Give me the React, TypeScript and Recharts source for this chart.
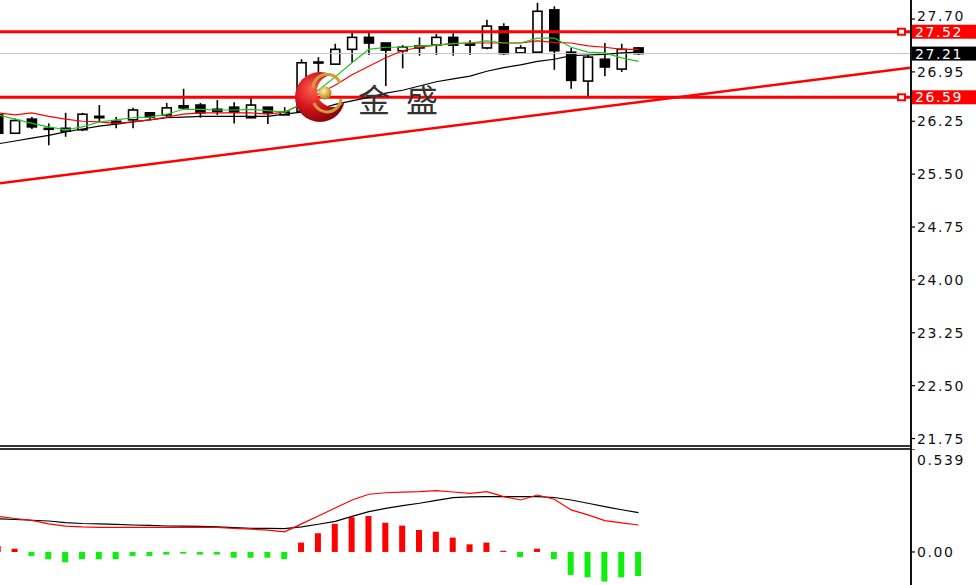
import {
  ComposedChart,
  Bar,
  Line,
  XAxis,
  YAxis,
  ReferenceLine,
  Cell,
} from 'recharts';

// candles, k = -1 .. 37 (first one is cut by the left edge)
const openPx = [26.34, 26.08, 26.28, 26.15, 26.11, 26.13, 26.32, 26.25, 26.27, 26.37, 26.34, 26.47, 26.48, 26.42, 26.45, 26.30, 26.45, 26.34, 26.39, 27.09, 27.06, 27.27, 27.44, 27.36, 27.25, 27.29, 27.33, 27.44, 27.33, 27.29, 27.59, 27.22, 27.23, 27.83, 27.23, 26.82, 27.13, 26.99, 27.29];
const highPx = [26.37, 26.29, 26.31, 26.22, 26.37, 26.37, 26.48, 26.31, 26.44, 26.38, 26.51, 26.71, 26.51, 26.55, 26.52, 26.58, 26.45, 26.45, 27.13, 27.16, 27.35, 27.52, 27.52, 27.36, 27.33, 27.44, 27.49, 27.50, 27.40, 27.69, 27.64, 27.33, 27.93, 27.88, 27.29, 27.19, 27.36, 27.35, 27.30];
const lowPx = [26.05, 26.08, 26.14, 25.91, 26.03, 26.11, 26.24, 26.15, 26.15, 26.27, 26.30, 26.41, 26.30, 26.34, 26.22, 26.30, 26.21, 26.34, 26.37, 26.93, 27.06, 27.08, 27.19, 26.75, 27.00, 27.18, 27.19, 27.18, 27.19, 27.27, 27.19, 27.22, 27.22, 26.98, 26.71, 26.59, 26.89, 26.95, 27.19];
const closePx = [26.08, 26.26, 26.17, 26.14, 26.15, 26.35, 26.30, 26.22, 26.41, 26.31, 26.44, 26.44, 26.37, 26.39, 26.38, 26.48, 26.37, 26.38, 27.08, 27.08, 27.27, 27.44, 27.36, 27.26, 27.30, 27.32, 27.44, 27.33, 27.35, 27.60, 27.21, 27.29, 27.81, 27.25, 26.83, 27.16, 27.02, 27.27, 27.21];

const maGreen = [26.34, 26.28, 26.22, 26.17, 26.13, 26.17, 26.24, 26.27, 26.30, 26.31, 26.35, 26.42, 26.42, 26.41, 26.41, 26.42, 26.40, 26.38, 26.49, 26.69, 26.88, 27.08, 27.27, 27.30, 27.30, 27.32, 27.33, 27.35, 27.36, 27.39, 27.36, 27.36, 27.43, 27.43, 27.30, 27.23, 27.22, 27.15, 27.10];
const maRed = [26.37, 26.34, 26.37, 26.32, 26.28, 26.25, 26.24, 26.22, 26.24, 26.27, 26.31, 26.35, 26.37, 26.37, 26.37, 26.37, 26.35, 26.38, 26.49, 26.64, 26.76, 26.91, 27.03, 27.15, 27.25, 27.30, 27.33, 27.35, 27.36, 27.36, 27.36, 27.36, 27.39, 27.37, 27.36, 27.32, 27.30, 27.27, 27.27];
const maBlack = [25.93, 25.97, 26.01, 26.05, 26.10, 26.14, 26.18, 26.21, 26.24, 26.27, 26.30, 26.31, 26.32, 26.32, 26.32, 26.32, 26.32, 26.35, 26.38, 26.42, 26.49, 26.54, 26.59, 26.65, 26.69, 26.75, 26.81, 26.85, 26.89, 26.96, 27.01, 27.05, 27.10, 27.13, 27.18, 27.19, 27.20, 27.22, 27.23];

const macdRed = [0.186, 0.175, 0.165, 0.147, 0.135, 0.131, 0.129, 0.129, 0.129, 0.129, 0.129, 0.129, 0.129, 0.128, 0.123, 0.119, 0.114, 0.105, 0.147, 0.188, 0.230, 0.272, 0.302, 0.310, 0.313, 0.316, 0.321, 0.314, 0.307, 0.316, 0.290, 0.272, 0.298, 0.276, 0.220, 0.194, 0.164, 0.152, 0.141];
const macdBlack = [0.173, 0.170, 0.166, 0.162, 0.154, 0.149, 0.147, 0.144, 0.141, 0.139, 0.136, 0.135, 0.134, 0.131, 0.127, 0.124, 0.123, 0.122, 0.131, 0.145, 0.160, 0.186, 0.211, 0.228, 0.243, 0.255, 0.270, 0.284, 0.288, 0.290, 0.290, 0.290, 0.290, 0.285, 0.272, 0.255, 0.237, 0.221, 0.206];
const macdHist = [0.031, 0.017, -0.021, -0.038, -0.054, -0.038, -0.038, -0.038, -0.021, -0.021, -0.014, -0.009, -0.014, -0.014, -0.030, -0.030, -0.030, -0.038, 0.049, 0.098, 0.147, 0.182, 0.188, 0.153, 0.138, 0.115, 0.106, 0.075, 0.040, 0.049, 0.006, -0.027, 0.017, -0.037, -0.120, -0.133, -0.155, -0.133, -0.126];

const priceTicks = [27.7, 26.95, 26.25, 25.5, 24.75, 24.0, 23.25, 22.5, 21.75];
const macdTicks = [0.539, 0];
const resistance = 27.52;
const support = 26.59;
const lastPrice = 27.21;
const trendFrom = 25.37;
const trendTo = 27.01;

const xDomain = [-0.89, 53.11];
const priceDomain = [21.644, 27.97];
const macdDomain = [-0.173, 0.539];

const rows = openPx.map((o, i) => ({
  t: i - 1,
  open: o,
  high: highPx[i],
  low: lowPx[i],
  close: closePx[i],
  range: [lowPx[i], highPx[i]],
  ma1: maGreen[i],
  ma2: maRed[i],
  ma3: maBlack[i],
  mRed: macdRed[i],
  mBlack: macdBlack[i],
  hist: macdHist[i],
}));

const FONT = '"DejaVu Sans", Verdana, sans-serif';

const Candle = (props: any) => {
  const { x, y, width, height, payload } = props;
  const top = Math.min(y, y + height);
  const h = Math.abs(height);
  const span = payload.high - payload.low || 1;
  const py = (v: number) => top + ((payload.high - v) / span) * h;
  const cx = x + width / 2;
  const bull = payload.close >= payload.open;
  const bt = py(Math.max(payload.open, payload.close));
  const bb = py(Math.min(payload.open, payload.close));
  return (
    <g>
      <line x1={cx} x2={cx} y1={top} y2={top + h} stroke="#000" strokeWidth={1.6} />
      <rect
        x={cx - 4.5}
        y={bt}
        width={9}
        height={Math.max(bb - bt, 1)}
        fill={bull ? '#fff' : '#000'}
        stroke="#000"
        strokeWidth={1.6}
      />
    </g>
  );
};

// 27.70 sits right above the 27.52 tag, so it is nudged up a little
const AxisTick = (props: any) => {
  const { x, y, payload, macd } = props;
  const v = payload.value;
  let text = v.toFixed(2);
  let dy = 5;
  if (macd && v > 0) {
    text = v.toFixed(3);
    dy = 16;
  }
  if (!macd && v === priceTicks[0]) dy = 2;
  return (
    <text x={x} y={y} dy={dy} fill="#111" fontSize={14} fontFamily={FONT} letterSpacing={1.6} textAnchor="start">
      {text}
    </text>
  );
};

const PriceTag = (props: any) => {
  const { viewBox, text, bg, marker } = props;
  const right = viewBox.x + viewBox.width;
  const cy = viewBox.y + (viewBox.height || 0) / 2;
  return (
    <g>
      {marker && <rect x={right - 12} y={cy - 3} width={7} height={6} fill="#fff" stroke="#f00" strokeWidth={2} />}
      <rect x={right + 2} y={cy - 7} width={66} height={14} fill={bg} />
      <text x={right + 5} y={cy + 5} fill="#fff" fontSize={14} fontFamily={FONT} letterSpacing={1.6}>
        {text}
      </text>
    </g>
  );
};

function Watermark() {
  return (
    <svg width={976} height={585} style={{ position: 'absolute', left: 0, top: 0, pointerEvents: 'none' }}>
      <defs>
        <radialGradient id="moonFill" cx="35%" cy="35%" r="75%">
          <stop offset="0%" stopColor="#ff6050" />
          <stop offset="50%" stopColor="#d4121c" />
          <stop offset="100%" stopColor="#780008" />
        </radialGradient>
        <radialGradient id="ballFill" cx="40%" cy="35%" r="70%">
          <stop offset="0%" stopColor="#fff4b8" />
          <stop offset="60%" stopColor="#d2a63a" />
          <stop offset="100%" stopColor="#94701a" />
        </radialGradient>
        <mask id="moonCut">
          <rect x={280} y={60} width={90} height={80} fill="#fff" />
          <circle cx={333} cy={91} r={16} fill="#000" />
        </mask>
      </defs>
      <circle cx={320} cy={97} r={25} fill="url(#moonFill)" mask="url(#moonCut)" />
      <path d="M313 88 A14 14 0 0 1 340 83" fill="none" stroke="#c9a03a" strokeWidth={3} />
      <path d="M314 103 A14 14 0 0 0 341 99" fill="none" stroke="#c9a03a" strokeWidth={3} />
      <circle cx={325} cy={93} r={6.5} fill="url(#ballFill)" />
      <text x={374} y={112} fontSize={32} fontFamily='"Noto Sans CJK SC"' fill="#333" textAnchor="middle">金</text>
      <text x={422} y={112} fontSize={32} fontFamily='"Noto Sans CJK SC"' fill="#333" textAnchor="middle">盛</text>
    </svg>
  );
}

export default function App() {
  return (
    <div style={{ position: 'absolute', left: 0, top: 0, width: 976, height: 585, background: '#fff', overflow: 'hidden' }}>
      <div style={{ position: 'absolute', left: 0, top: 0 }}>
        <ComposedChart width={976} height={446} data={rows} margin={{ top: 0, right: 0, bottom: 0, left: 0 }}>
          <XAxis dataKey="t" type="number" domain={xDomain} allowDataOverflow hide height={0} />
          <YAxis
            orientation="right"
            width={66}
            domain={priceDomain}
            allowDataOverflow
            ticks={priceTicks}
            interval={0}
            axisLine={false}
            tickLine={{ stroke: '#000', strokeWidth: 1.2 }}
            tickSize={5}
            tickMargin={2}
            tick={<AxisTick />}
          />
          <ReferenceLine y={lastPrice} stroke="#c4c4c4" strokeWidth={1}
            label={(p: any) => <PriceTag {...p} text={lastPrice.toFixed(2)} bg="#000" />} />
          <ReferenceLine
            segment={[{ x: xDomain[0], y: trendFrom }, { x: xDomain[1], y: trendTo }]}
            stroke="#f00"
            strokeWidth={2.5}
          />
          <ReferenceLine y={resistance} stroke="#f00" strokeWidth={3}
            label={(p: any) => <PriceTag {...p} text={resistance.toFixed(2)} bg="#f00" marker />} />
          <ReferenceLine y={support} stroke="#f00" strokeWidth={3}
            label={(p: any) => <PriceTag {...p} text={support.toFixed(2)} bg="#f00" marker />} />
          <Bar dataKey="range" barSize={9} shape={<Candle />} isAnimationActive={false} />
          <Line dataKey="ma3" stroke="#000" strokeWidth={1.2} dot={false} isAnimationActive={false} />
          <Line dataKey="ma2" stroke="#f00" strokeWidth={1.2} dot={false} isAnimationActive={false} />
          <Line dataKey="ma1" stroke="#1fc41f" strokeWidth={1.2} dot={false} isAnimationActive={false} />
        </ComposedChart>
      </div>

      <div style={{ position: 'absolute', left: 0, top: 449 }}>
        <ComposedChart width={976} height={136} data={rows} margin={{ top: 0, right: 0, bottom: 0, left: 0 }}>
          <XAxis dataKey="t" type="number" domain={xDomain} allowDataOverflow hide height={0} />
          <YAxis
            orientation="right"
            width={66}
            domain={macdDomain}
            allowDataOverflow
            ticks={macdTicks}
            interval={0}
            axisLine={false}
            tickLine={{ stroke: '#000', strokeWidth: 1.2 }}
            tickSize={5}
            tickMargin={2}
            tick={<AxisTick macd />}
          />
          <Bar dataKey="hist" barSize={6} isAnimationActive={false}>
            {rows.map((r) => (
              <Cell key={r.t} fill={r.hist >= 0 ? '#f00' : '#10ee10'} />
            ))}
          </Bar>
          <Line dataKey="mBlack" stroke="#000" strokeWidth={1.2} dot={false} isAnimationActive={false} />
          <Line dataKey="mRed" stroke="#f00" strokeWidth={1.2} dot={false} isAnimationActive={false} />
        </ComposedChart>
      </div>

      {/* panel frame */}
      <div style={{ position: 'absolute', left: 0, top: 445, width: 911, height: 1.5, background: '#333' }} />
      <div style={{ position: 'absolute', left: 0, top: 448, width: 911, height: 1.5, background: '#333' }} />
      <div style={{ position: 'absolute', left: 910, top: 0, width: 1.5, height: 585, background: '#111' }} />

      <Watermark />
    </div>
  );
}
